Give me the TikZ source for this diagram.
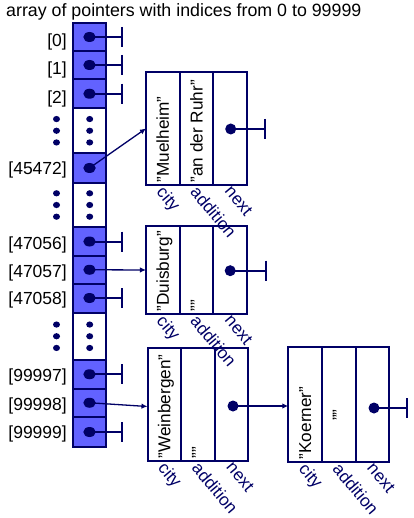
\documentclass[tikz,border=0pt]{standalone}
\usepackage{fontspec}
\setmainfont{Liberation Sans}
\usetikzlibrary{arrows.meta,shapes.geometric}
\definecolor{navy}{RGB}{0,0,102}
\definecolor{cellblue}{RGB}{98,98,255}
\begin{document}
\begin{tikzpicture}[x=1pt,y=-1pt,
  cellbase/.style={draw=navy,line width=2pt,minimum width=33pt,inner sep=0pt,outer sep=0pt},
  ptrcell/.style={cellbase,fill=cellblue},
  dotcell/.style={cellbase,fill=white},
  ptrdot/.style={ellipse,fill=navy,minimum width=12.5pt,minimum height=10pt,inner sep=0pt},
  smalldot/.style={ellipse,fill=navy,minimum width=7pt,minimum height=6.2pt,inner sep=0pt},
  nextdot/.style={circle,fill=navy,minimum size=11pt,inner sep=0pt},
  nul/.style={draw=navy,line width=2pt},
  arr/.style={draw=navy,line width=1.3pt,-{Latex[length=6pt,width=5.5pt]}},
  field/.style={draw=navy,line width=2pt,inner sep=0pt,outer sep=0pt},
  idx/.style={anchor=base east,inner sep=0pt,font=\fontsize{17.5}{20}\selectfont},
  val/.style={rotate=90,anchor=base west,inner sep=0pt,font=\fontsize{17.2}{20}\selectfont},
  fname/.style={rotate=-50,anchor=north west,inner sep=0pt,text=navy,font=\fontsize{17.2}{20}\selectfont}
]
\useasboundingbox (0,0) rectangle (413,518);

% title
\node[anchor=base west,inner sep=0pt,font=\fontsize{17.8}{20}\selectfont] (title) at (6,16.5) {array of pointers with indices from 0 to 99999};

% array cells
\node[ptrcell,minimum height=28pt] (a0) at (89.5,37) {};
\node[ptrcell,minimum height=28pt] (a1) at (89.5,65) {};
\node[ptrcell,minimum height=29.5pt] (a2) at (89.5,93.75) {};
\node[dotcell,minimum height=44.5pt] (e1) at (89.5,130.75) {};
\node[ptrcell,minimum height=30pt] (a45472) at (89.5,168) {};
\node[dotcell,minimum height=44pt] (e2) at (89.5,205) {};
\node[ptrcell,minimum height=29pt] (a47056) at (89.5,241.5) {};
\node[ptrcell,minimum height=27.5pt] (a47057) at (89.5,269.75) {};
\node[ptrcell,minimum height=29pt] (a47058) at (89.5,298) {};
\node[dotcell,minimum height=47.5pt] (e3) at (89.5,336.25) {};
\node[ptrcell,minimum height=28.5pt] (a99997) at (89.5,374.25) {};
\node[ptrcell,minimum height=28.5pt] (a99998) at (89.5,402.75) {};
\node[ptrcell,minimum height=30pt] (a99999) at (89.5,432) {};

% index labels
\node[idx] (l0) at (67,46.5) {[0]};
\node[idx] (l1) at (67,75) {[1]};
\node[idx] (l2) at (67,103.5) {[2]};
\node[idx] (l45472) at (67,175) {[45472]};
\node[idx] (l47056) at (67,249.5) {[47056]};
\node[idx] (l47057) at (67,277) {[47057]};
\node[idx] (l47058) at (67,304.5) {[47058]};
\node[idx] (l99997) at (67,381.5) {[99997]};
\node[idx] (l99998) at (67,410) {[99998]};
\node[idx] (l99999) at (67,438.5) {[99999]};

% ellipsis dots
\foreach \c/\n in {130.75/1,205/2,336.25/3}{
  \foreach \d/\m in {-11.7/a,0/b,11.7/c}{
    \node[smalldot] (ld\n\m) at (56.5,\c+\d) {};
    \node[smalldot] (rd\n\m) at (89.7,\c+\d) {};
  }
}

% records
% record 1
\node[field,minimum width=33.67pt,minimum height=113pt] (r1a) at (162.8,128.5) {};
\node[field,minimum width=33.67pt,minimum height=113pt] (r1b) at (196.5,128.5) {};
\node[field,minimum width=33.67pt,minimum height=113pt] (r1c) at (230.2,128.5) {};
% record 2
\node[field,minimum width=33.67pt,minimum height=88pt] (r2a) at (162.8,270) {};
\node[field,minimum width=33.67pt,minimum height=88pt] (r2b) at (196.5,270) {};
\node[field,minimum width=33.67pt,minimum height=88pt] (r2c) at (230.2,270) {};
% record 3
\node[field,minimum width=33.5pt,minimum height=113pt] (r3a) at (164.25,404.5) {};
\node[field,minimum width=33.5pt,minimum height=113pt] (r3b) at (197.75,404.5) {};
\node[field,minimum width=33.5pt,minimum height=113pt] (r3c) at (231.25,404.5) {};
% record 4
\node[field,minimum width=33.6pt,minimum height=115pt] (r4a) at (305.1,404.5) {};
\node[field,minimum width=33.6pt,minimum height=115pt] (r4b) at (338.7,404.5) {};
\node[field,minimum width=33.6pt,minimum height=115pt] (r4c) at (372.3,404.5) {};

% record values
\node[val] (v1a) at (168.8,182.5) {"Muelheim"};
\node[val] (v1b) at (202.5,182.5) {"an der Ruhr"};
\node[val] (v2a) at (168.8,311.5) {"Duisburg"};
\node[val] (v2b) at (202.5,311.5) {""};
\node[val] (v3a) at (170.25,458.5) {"Weinbergen"};
\node[val] (v3b) at (203.75,458.5) {""};
\node[val] (v4a) at (311.1,459.5) {"Koerner"};
\node[val] (v4b) at (344.7,421) {""};

% field names
\foreach \r/\lx/\by in {1/146/185,2/146/314,3/147.5/461,4/288.3/462}{
  \node[fname] (fc\r) at (\lx+19.5,\by-0.5) {city};
  \node[fname] (fa\r) at (\lx+53.1,\by-0.5) {addition};
  \node[fname] (fn\r) at (\lx+86.7,\by-0.5) {next};
}

% pointer dots in cells
\foreach \n in {a0,a1,a2,a45472,a47056,a47057,a47058,a99997,a99998,a99999}{
  \node[ptrdot] (p\n) at (\n.center) {};
}

% null pointers of the array
\foreach \n in {a0,a1,a2,a47056,a47058,a99997,a99999}{
  \coordinate (z\n) at ([xshift=32.5pt]\n.center);
  \draw[nul] (p\n.center) -- (z\n);
  \draw[nul] ([yshift=10pt]z\n) -- ([yshift=-10pt]z\n);
}

% pointers to records
\draw[arr] (pa45472.center) -- (r1a.west);
\draw[arr] (pa47057.center) -- (r2a.west);
\draw[arr] (pa99998.center) -- ([yshift=-2pt]r3a.west);

% next fields
\node[nextdot] (n1) at (230.7,129) {};
\node[nextdot] (n2) at (230.2,270.7) {};
\node[nextdot] (n3) at (233,406) {};
\node[nextdot] (n4) at (374,408) {};
\coordinate (z1) at (265,129);
\coordinate (z2) at (266,270.7);
\coordinate (z4) at (407.3,408);
\foreach \k in {1,2,4}{
  \draw[nul] (n\k.center) -- (z\k);
  \draw[nul] ([yshift=10pt]z\k) -- ([yshift=-10pt]z\k);
}
\draw[arr] (n3.center) -- (r4a.west |- n3);
\end{tikzpicture}
\end{document}
